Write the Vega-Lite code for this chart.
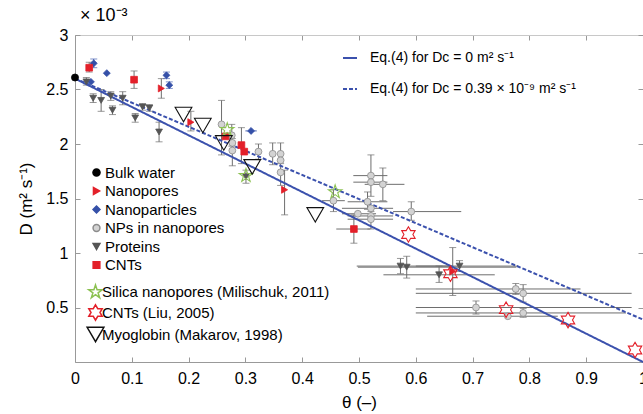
{
  "$schema": "https://vega.github.io/schema/vega-lite/v6.json",
  "width": 568,
  "height": 327,
  "autosize": "none",
  "padding": {"left": 75, "top": 35, "right": 0, "bottom": 52},
  "config": {"font": "Liberation Sans", "view": {"stroke": null}},
  "title": {"text": "× 10⁻³", "anchor": "start", "frame": "group", "fontSize": 18, "fontWeight": "normal", "offset": 2, "dx": 5},
  "datasets": {
    "pts": [
      {"g": "Bulk water", "x": 0, "y": 2.61},
      {"g": "Nanopores", "x": 0.152, "y": 2.51, "ylo": 2.42, "yhi": 2.6},
      {"g": "Nanopores", "x": 0.204, "y": 2.2, "ylo": 2.12, "yhi": 2.3},
      {"g": "Nanopores", "x": 0.369, "y": 1.58, "ylo": 1.35, "yhi": 1.76},
      {"g": "Nanopores", "x": 0.665, "y": 0.83, "ylo": 0.61, "yhi": 1.05},
      {"g": "Nanoparticles", "x": 0.033, "y": 2.74, "ylo": 2.7, "yhi": 2.78},
      {"g": "Nanoparticles", "x": 0.028, "y": 2.57},
      {"g": "Nanoparticles", "x": 0.056, "y": 2.65},
      {"g": "Nanoparticles", "x": 0.161, "y": 2.63, "ylo": 2.6, "yhi": 2.66},
      {"g": "Nanoparticles", "x": 0.166, "y": 2.54, "ylo": 2.51, "yhi": 2.57},
      {"g": "Nanoparticles", "x": 0.31, "y": 2.12, "xlo": 0.3, "xhi": 0.32},
      {"g": "NPs in nanopores", "x": 0.258, "y": 2.18, "ylo": 1.9, "yhi": 2.4},
      {"g": "NPs in nanopores", "x": 0.276, "y": 2.08, "ylo": 1.98, "yhi": 2.18},
      {"g": "NPs in nanopores", "x": 0.277, "y": 2.01},
      {"g": "NPs in nanopores", "x": 0.277, "y": 1.94, "ylo": 1.8, "yhi": 2.05},
      {"g": "NPs in nanopores", "x": 0.323, "y": 1.93, "ylo": 1.86, "yhi": 2.0},
      {"g": "NPs in nanopores", "x": 0.348, "y": 1.91, "ylo": 1.81, "yhi": 2.01},
      {"g": "NPs in nanopores", "x": 0.362, "y": 1.91, "ylo": 1.82, "yhi": 2.01},
      {"g": "NPs in nanopores", "x": 0.362, "y": 1.85},
      {"g": "NPs in nanopores", "x": 0.362, "y": 1.74, "ylo": 1.62, "yhi": 1.86},
      {"g": "NPs in nanopores", "x": 0.455, "y": 1.48, "ylo": 1.38, "yhi": 1.58, "xlo": 0.435, "xhi": 0.475},
      {"g": "NPs in nanopores", "x": 0.521, "y": 1.71, "ylo": 1.52, "yhi": 1.9, "xlo": 0.49, "xhi": 0.55},
      {"g": "NPs in nanopores", "x": 0.521, "y": 1.65, "xlo": 0.49, "xhi": 0.55},
      {"g": "NPs in nanopores", "x": 0.542, "y": 1.63, "ylo": 1.48, "yhi": 1.78, "xlo": 0.51, "xhi": 0.58},
      {"g": "NPs in nanopores", "x": 0.515, "y": 1.47, "ylo": 1.4, "yhi": 1.56, "xlo": 0.48, "xhi": 0.55},
      {"g": "NPs in nanopores", "x": 0.521, "y": 1.41, "xlo": 0.47, "xhi": 0.56},
      {"g": "NPs in nanopores", "x": 0.498, "y": 1.36, "xlo": 0.47, "xhi": 0.53},
      {"g": "NPs in nanopores", "x": 0.521, "y": 1.34, "xlo": 0.48, "xhi": 0.56},
      {"g": "NPs in nanopores", "x": 0.521, "y": 1.31, "ylo": 1.22, "yhi": 1.38, "xlo": 0.48, "xhi": 0.56},
      {"g": "NPs in nanopores", "x": 0.592, "y": 1.38, "ylo": 1.3, "yhi": 1.47, "xlo": 0.56, "xhi": 0.68},
      {"g": "NPs in nanopores", "x": 0.776, "y": 0.67, "ylo": 0.62, "yhi": 0.72, "xlo": 0.6, "xhi": 0.89},
      {"g": "NPs in nanopores", "x": 0.789, "y": 0.63, "ylo": 0.55, "yhi": 0.71, "xlo": 0.6, "xhi": 0.98},
      {"g": "NPs in nanopores", "x": 0.706, "y": 0.5, "ylo": 0.44, "yhi": 0.56, "xlo": 0.6, "xhi": 0.98},
      {"g": "NPs in nanopores", "x": 0.762, "y": 0.42, "xlo": 0.62, "xhi": 0.85},
      {"g": "NPs in nanopores", "x": 0.789, "y": 0.45, "ylo": 0.41, "yhi": 0.49, "xlo": 0.6, "xhi": 0.97},
      {"g": "Proteins", "x": 0.02, "y": 2.57, "ylo": 2.54, "yhi": 2.61},
      {"g": "Proteins", "x": 0.032, "y": 2.42, "ylo": 2.38, "yhi": 2.46},
      {"g": "Proteins", "x": 0.046, "y": 2.4, "ylo": 2.3, "yhi": 2.5},
      {"g": "Proteins", "x": 0.063, "y": 2.44, "ylo": 2.4, "yhi": 2.48},
      {"g": "Proteins", "x": 0.066, "y": 2.31, "ylo": 2.27, "yhi": 2.35},
      {"g": "Proteins", "x": 0.084, "y": 2.42, "ylo": 2.36, "yhi": 2.48},
      {"g": "Proteins", "x": 0.106, "y": 2.24, "ylo": 2.2, "yhi": 2.28},
      {"g": "Proteins", "x": 0.119, "y": 2.34, "ylo": 2.31, "yhi": 2.37},
      {"g": "Proteins", "x": 0.131, "y": 2.33, "ylo": 2.3, "yhi": 2.36},
      {"g": "Proteins", "x": 0.148, "y": 2.11, "ylo": 2.02, "yhi": 2.2},
      {"g": "Proteins", "x": 0.301, "y": 1.7, "ylo": 1.64, "yhi": 1.76},
      {"g": "Proteins", "x": 0.573, "y": 0.88, "ylo": 0.81, "yhi": 0.95, "xlo": 0.496, "xhi": 0.665},
      {"g": "Proteins", "x": 0.584, "y": 0.87, "ylo": 0.77, "yhi": 0.97, "xlo": 0.498, "xhi": 0.777},
      {"g": "Proteins", "x": 0.641, "y": 0.8, "ylo": 0.73, "yhi": 0.88, "xlo": 0.543, "xhi": 0.739},
      {"g": "Proteins", "x": 0.677, "y": 0.88, "ylo": 0.83, "yhi": 0.93, "xlo": 0.6, "xhi": 0.78},
      {"g": "CNTs", "x": 0.025, "y": 2.7, "ylo": 2.66, "yhi": 2.75},
      {"g": "CNTs", "x": 0.104, "y": 2.59, "ylo": 2.51, "yhi": 2.67},
      {"g": "CNTs", "x": 0.265, "y": 2.07},
      {"g": "CNTs", "x": 0.293, "y": 1.99, "ylo": 1.82, "yhi": 2.15},
      {"g": "CNTs", "x": 0.298, "y": 1.93},
      {"g": "CNTs", "x": 0.491, "y": 1.22, "ylo": 1.09, "yhi": 1.35, "xlo": 0.46, "xhi": 0.52},
      {"g": "Silica nanopores (Milischuk, 2011)", "x": 0.268, "y": 2.13},
      {"g": "Silica nanopores (Milischuk, 2011)", "x": 0.301, "y": 1.71},
      {"g": "Silica nanopores (Milischuk, 2011)", "x": 0.458, "y": 1.56},
      {"g": "CNTs (Liu, 2005)", "x": 0.587, "y": 1.17},
      {"g": "CNTs (Liu, 2005)", "x": 0.661, "y": 0.81},
      {"g": "CNTs (Liu, 2005)", "x": 0.759, "y": 0.48},
      {"g": "CNTs (Liu, 2005)", "x": 0.868, "y": 0.385},
      {"g": "CNTs (Liu, 2005)", "x": 0.986, "y": 0.11},
      {"g": "Myoglobin (Makarov, 1998)", "x": 0.191, "y": 2.27},
      {"g": "Myoglobin (Makarov, 1998)", "x": 0.225, "y": 2.17},
      {"g": "Myoglobin (Makarov, 1998)", "x": 0.262, "y": 2.01},
      {"g": "Myoglobin (Makarov, 1998)", "x": 0.312, "y": 1.79},
      {"g": "Myoglobin (Makarov, 1998)", "x": 0.423, "y": 1.35}
    ],
    "eqlines": [
      {"eq": "Eq.(4) for Dᴄ = 0 m² s⁻¹", "x": 0, "y": 2.6},
      {"eq": "Eq.(4) for Dᴄ = 0 m² s⁻¹", "x": 1, "y": 0},
      {"eq": "Eq.(4) for Dᴄ = 0.39 × 10⁻⁹ m² s⁻¹", "x": 0, "y": 2.6},
      {"eq": "Eq.(4) for Dᴄ = 0.39 × 10⁻⁹ m² s⁻¹", "x": 1, "y": 0.39}
    ]
  },
  "layer": [
    {
      "data": {"name": "pts"},
      "transform": [{"filter": "isValid(datum.xlo)"}],
      "mark": {"type": "rule", "strokeWidth": 1},
      "encoding": {
        "x": {"field": "xlo", "type": "quantitative", "scale": {"domain": [0, 1], "nice": false}, "axis": null},
        "x2": {"field": "xhi"},
        "y": {"field": "y", "type": "quantitative", "scale": {"domain": [0, 3], "nice": false}, "axis": null},
        "color": {"condition": {"test": "datum.g === 'Nanoparticles'", "value": "#4a64b4"}, "value": "#6e6e6e"}
      }
    },
    {
      "data": {"name": "pts"},
      "transform": [{"filter": "isValid(datum.ylo)"}],
      "mark": {"type": "rule", "strokeWidth": 1},
      "encoding": {
        "x": {"field": "x", "type": "quantitative", "axis": null},
        "y": {"field": "ylo", "type": "quantitative", "axis": null},
        "y2": {"field": "yhi"},
        "color": {"condition": {"test": "datum.g === 'Nanoparticles'", "value": "#4a64b4"}, "value": "#6e6e6e"}
      }
    },
    {
      "data": {"name": "pts"},
      "transform": [{"filter": "isValid(datum.ylo)"}, {"fold": ["ylo", "yhi"], "as": ["k", "v"]}],
      "mark": {"type": "tick", "orient": "horizontal", "size": 7, "thickness": 1},
      "encoding": {
        "x": {"field": "x", "type": "quantitative", "axis": null},
        "y": {"field": "v", "type": "quantitative", "axis": null},
        "color": {"condition": {"test": "datum.g === 'Nanoparticles'", "value": "#4a64b4"}, "value": "#6e6e6e"}
      }
    },
    {
      "data": {"name": "eqlines"},
      "mark": {"type": "line", "color": "#3b51ad", "strokeWidth": 2},
      "encoding": {
        "x": {"field": "x", "type": "quantitative", "axis": {"orient": "top", "values": [0, 0.1, 0.2, 0.3, 0.4, 0.5, 0.6, 0.7, 0.8, 0.9, 1], "labels": false, "tickSize": -5, "domainColor": "#c8c8c8", "tickColor": "#999999", "title": null, "grid": false}},
        "y": {"field": "y", "type": "quantitative", "axis": {"orient": "right", "values": [0.5, 1, 1.5, 2, 2.5, 3], "labels": false, "tickSize": -5, "domainColor": "#c8c8c8", "tickColor": "#999999", "title": null, "grid": false}},
        "strokeDash": {"field": "eq", "type": "nominal", "scale": {"domain": ["Eq.(4) for Dᴄ = 0 m² s⁻¹", "Eq.(4) for Dᴄ = 0.39 × 10⁻⁹ m² s⁻¹"], "range": [[1, 0], [4, 2]]},
          "legend": {"title": null, "orient": "none", "legendX": 267, "legendY": 15, "labelFontSize": 14, "labelLimit": 400, "rowPadding": 16, "labelOffset": 12, "symbolType": "stroke", "symbolStrokeColor": "#3b51ad", "symbolStrokeWidth": 2, "symbolSize": 196, "padding": 0}}
      }
    },
    {
      "data": {"name": "pts"},
      "transform": [{"filter": "indexof(['Bulk water','Nanopores','Nanoparticles','NPs in nanopores','Proteins','CNTs'], datum.g) >= 0"}],
      "mark": {"type": "point", "filled": true, "opacity": 1, "strokeWidth": 0.8},
      "encoding": {
        "x": {"field": "x", "type": "quantitative", "axis": {"orient": "bottom", "values": [0, 0.1, 0.2, 0.3, 0.4, 0.5, 0.6, 0.7, 0.8, 0.9, 1], "format": ".1~f", "tickSize": -5, "labelPadding": 13, "labelFontSize": 16, "labelColor": "#000000", "labelFlush": false, "domainColor": "#999999", "tickColor": "#999999", "grid": false, "title": "θ (–)", "titleFontSize": 17, "titleFontWeight": "normal", "titlePadding": 8}},
        "y": {"field": "y", "type": "quantitative", "axis": {"orient": "left", "values": [0.5, 1, 1.5, 2, 2.5, 3], "format": "~g", "tickSize": -5, "labelPadding": 12, "labelFontSize": 16, "labelColor": "#000000", "domainColor": "#999999", "tickColor": "#999999", "grid": false, "title": "D (m² s⁻¹)", "titleFontSize": 17, "titleFontWeight": "normal", "titlePadding": 10}},
        "shape": {"field": "g", "type": "nominal", "scale": {"domain": ["Bulk water", "Nanopores", "Nanoparticles", "NPs in nanopores", "Proteins", "CNTs"], "range": ["circle", "triangle-right", "diamond", "circle", "triangle-down", "square"]},
          "legend": {"title": null, "orient": "none", "legendX": 14, "legendY": 130, "labelFontSize": 15, "labelLimit": 400, "rowPadding": 2.5, "labelOffset": 1, "padding": 0}},
        "fill": {"field": "g", "type": "nominal", "scale": {"domain": ["Bulk water", "Nanopores", "Nanoparticles", "NPs in nanopores", "Proteins", "CNTs"], "range": ["#000000", "#e3202a", "#3550a8", "#d3d3d3", "#555555", "#e3202a"]}},
        "stroke": {"field": "g", "type": "nominal", "scale": {"domain": ["Bulk water", "Nanopores", "Nanoparticles", "NPs in nanopores", "Proteins", "CNTs"], "range": ["#000000", "#e3202a", "#3550a8", "#8c8c8c", "#555555", "#e3202a"]}},
        "size": {"field": "g", "type": "nominal", "scale": {"domain": ["Bulk water", "Nanopores", "Nanoparticles", "NPs in nanopores", "Proteins", "CNTs"], "range": [50, 45, 35, 75, 50, 50]}}
      }
    },
    {
      "data": {"name": "pts"},
      "transform": [{"filter": "indexof(['Silica nanopores (Milischuk, 2011)','CNTs (Liu, 2005)','Myoglobin (Makarov, 1998)'], datum.g) >= 0"}],
      "mark": {"type": "point", "filled": false, "opacity": 1, "strokeWidth": 1.1},
      "encoding": {
        "x": {"field": "x", "type": "quantitative", "axis": null},
        "y": {"field": "y", "type": "quantitative", "axis": null},
        "shape": {"field": "g", "type": "nominal", "scale": {"domain": ["Silica nanopores (Milischuk, 2011)", "CNTs (Liu, 2005)", "Myoglobin (Makarov, 1998)"], "range": ["M0,-1L0.225,-0.309L0.951,-0.309L0.363,0.118L0.588,0.809L0,0.382L-0.588,0.809L-0.363,0.118L-0.951,-0.309L-0.225,-0.309Z", "M0,-1L0.289,-0.5L0.866,-0.5L0.577,0L0.866,0.5L0.289,0.5L0,1L-0.289,0.5L-0.866,0.5L-0.577,0L-0.866,-0.5L-0.289,-0.5Z", "triangle-down"]},
          "legend": {"title": null, "orient": "none", "legendX": 11, "legendY": 249, "labelFontSize": 15, "labelLimit": 400, "rowPadding": 0, "labelOffset": -3, "padding": 0}},
        "stroke": {"field": "g", "type": "nominal", "scale": {"domain": ["Silica nanopores (Milischuk, 2011)", "CNTs (Liu, 2005)", "Myoglobin (Makarov, 1998)"], "range": ["#8cc152", "#e3202a", "#111111"]}},
        "size": {"field": "g", "type": "nominal", "scale": {"domain": ["Silica nanopores (Milischuk, 2011)", "CNTs (Liu, 2005)", "Myoglobin (Makarov, 1998)"], "range": [200, 280, 260]}}
      }
    }
  ],
  "resolve": {
    "scale": {"shape": "independent", "fill": "independent", "stroke": "independent", "size": "independent", "strokeDash": "independent"},
    "axis": {"x": "independent", "y": "independent"}
  }
}
